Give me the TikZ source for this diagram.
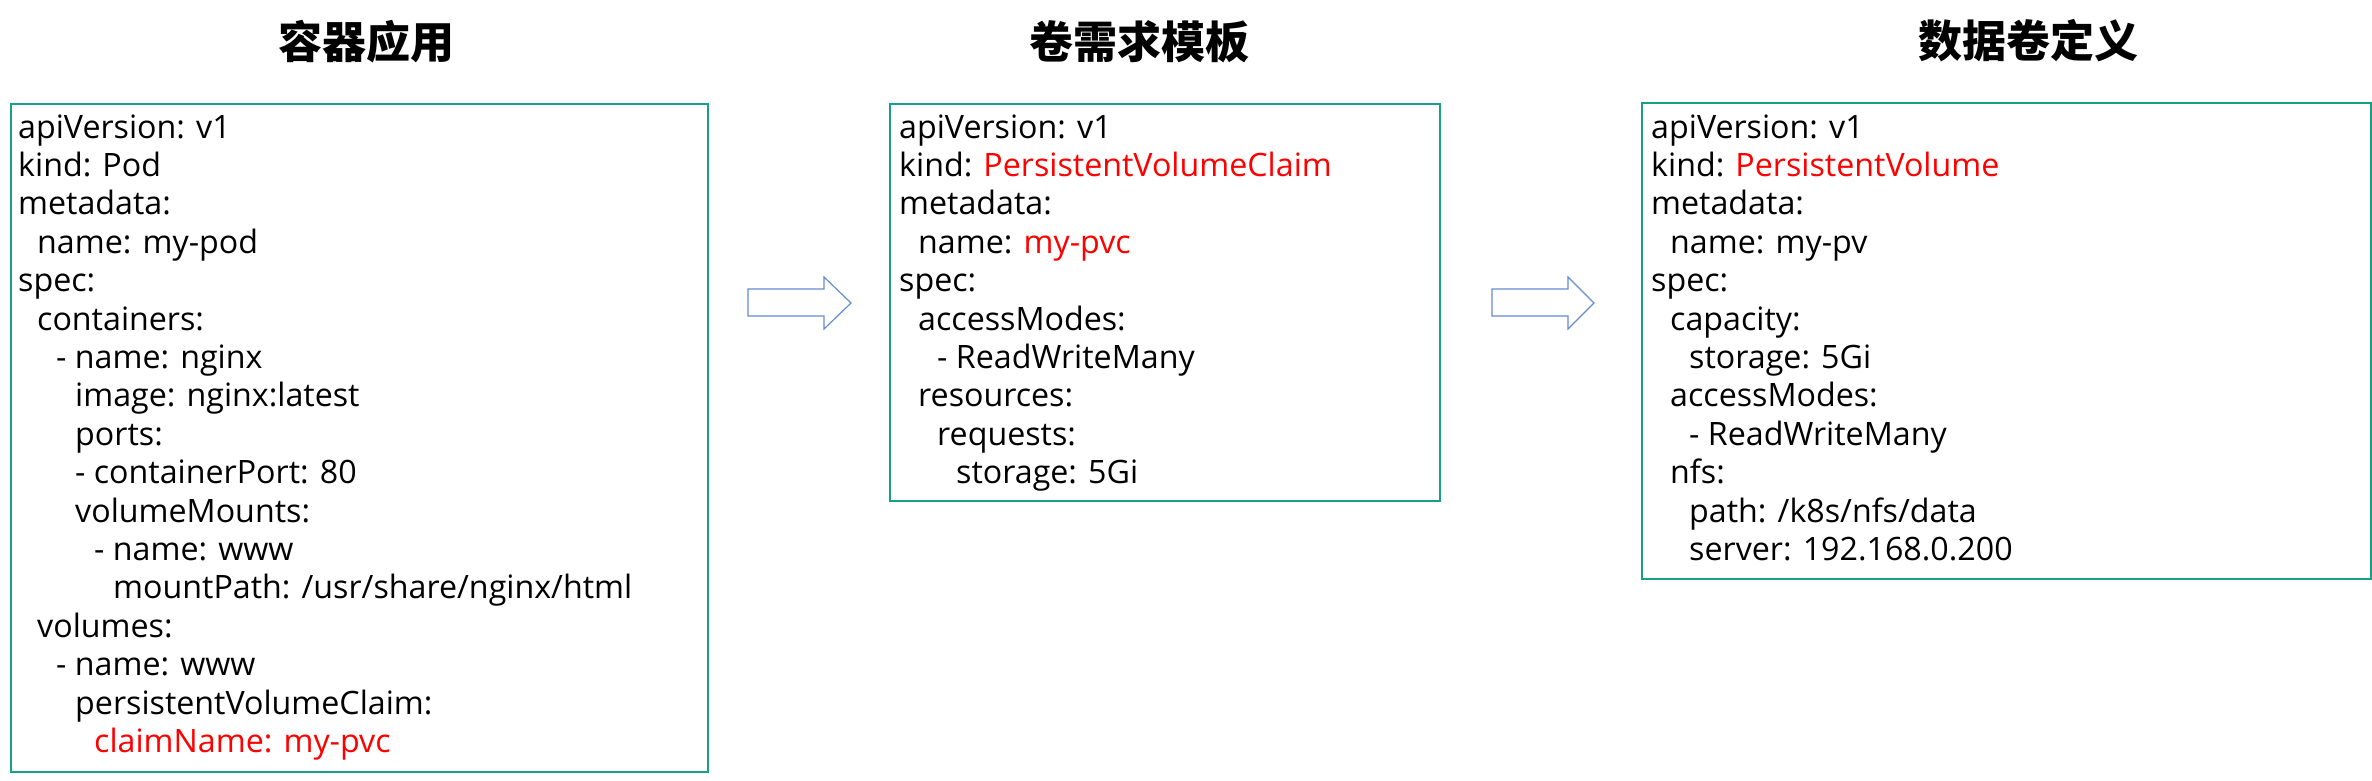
\documentclass[tikz,border=0pt]{standalone}
\usepackage{fontspec}
\setmainfont{Open Sans}
\newfontfamily\cjk{Noto Sans CJK SC}
\definecolor{boxc}{RGB}{22,160,133}
\definecolor{arrc}{RGB}{100,140,210}
\definecolor{hl}{RGB}{255,0,0}
\tikzset{
 yamlbox/.style={draw=boxc, line width=1.5pt},
 yl/.style={anchor=base west, inner sep=0pt, font=\fontsize{32.2}{38}\selectfont, text=black},
 ttl/.style={anchor=center, inner sep=0pt, font=\cjk\bfseries\fontsize{44}{50}\selectfont},
 blockarrow/.style={draw=arrc, line width=1.2pt, fill=white, line join=miter}
}
\newcommand\yline[5]{\node[yl] (#1) at ({#2+19*#4}, {138+38.4*(#3-1)}) {#5};}
\begin{document}
\begin{tikzpicture}[x=1pt,y=-1pt]
\useasboundingbox[fill=white] (0,0) rectangle (2372,780);
% titles
\node[ttl] (t1) at (366,42) {容器应用};
\node[ttl] (t2) at (1139,42) {卷需求模板};
\node[ttl] (t3) at (2028,41) {数据卷定义};
% boxes
\draw[yamlbox] (11,104) rectangle (708,772);
\draw[yamlbox] (890,104) rectangle (1440,501);
\draw[yamlbox] (1642,103) rectangle (2371,579);
% box 1
\yline{a1}{18}{1}{0}{apiVersion: v1}
\yline{a2}{18}{2}{0}{kind: Pod}
\yline{a3}{18}{3}{0}{metadata:}
\yline{a4}{18}{4}{1}{name: my-pod}
\yline{a5}{18}{5}{0}{spec:}
\yline{a6}{18}{6}{1}{containers:}
\yline{a7}{18}{7}{2}{- name: nginx}
\yline{a8}{18}{8}{3}{image: nginx:latest}
\yline{a9}{18}{9}{3}{ports:}
\yline{a10}{18}{10}{3}{- containerPort: 80}
\yline{a11}{18}{11}{3}{volumeMounts:}
\yline{a12}{18}{12}{4}{- name: www}
\yline{a13}{18}{13}{5}{mountPath: /usr/share/nginx/html}
\yline{a14}{18}{14}{1}{volumes:}
\yline{a15}{18}{15}{2}{- name: www}
\yline{a16}{18}{16}{3}{persistentVolumeClaim:}
\yline{a17}{18}{17}{4}{\textcolor{hl}{claimName: my-pvc}}
% box 2
\yline{b1}{899}{1}{0}{apiVersion: v1}
\yline{b2}{899}{2}{0}{kind: \textcolor{hl}{PersistentVolumeClaim}}
\yline{b3}{899}{3}{0}{metadata:}
\yline{b4}{899}{4}{1}{name: \textcolor{hl}{my-pvc}}
\yline{b5}{899}{5}{0}{spec:}
\yline{b6}{899}{6}{1}{accessModes:}
\yline{b7}{899}{7}{2}{- ReadWriteMany}
\yline{b8}{899}{8}{1}{resources:}
\yline{b9}{899}{9}{2}{requests:}
\yline{b10}{899}{10}{3}{storage: 5Gi}
% box 3
\yline{c1}{1651}{1}{0}{apiVersion: v1}
\yline{c2}{1651}{2}{0}{kind: \textcolor{hl}{PersistentVolume}}
\yline{c3}{1651}{3}{0}{metadata:}
\yline{c4}{1651}{4}{1}{name: my-pv}
\yline{c5}{1651}{5}{0}{spec:}
\yline{c6}{1651}{6}{1}{capacity:}
\yline{c7}{1651}{7}{2}{storage: 5Gi}
\yline{c8}{1651}{8}{1}{accessModes:}
\yline{c9}{1651}{9}{2}{- ReadWriteMany}
\yline{c10}{1651}{10}{1}{nfs:}
\yline{c11}{1651}{11}{2}{path: /k8s/nfs/data}
\yline{c12}{1651}{12}{2}{server: 192.168.0.200}
% block arrows
\draw[blockarrow] (748,289) -- (824,289) -- (824,277) -- (851,303) -- (824,329) -- (824,316) -- (748,316) -- cycle;
\draw[blockarrow] (1492,289) -- (1568,289) -- (1568,277) -- (1594,303) -- (1568,329) -- (1568,316) -- (1492,316) -- cycle;
\end{tikzpicture}
\end{document}
